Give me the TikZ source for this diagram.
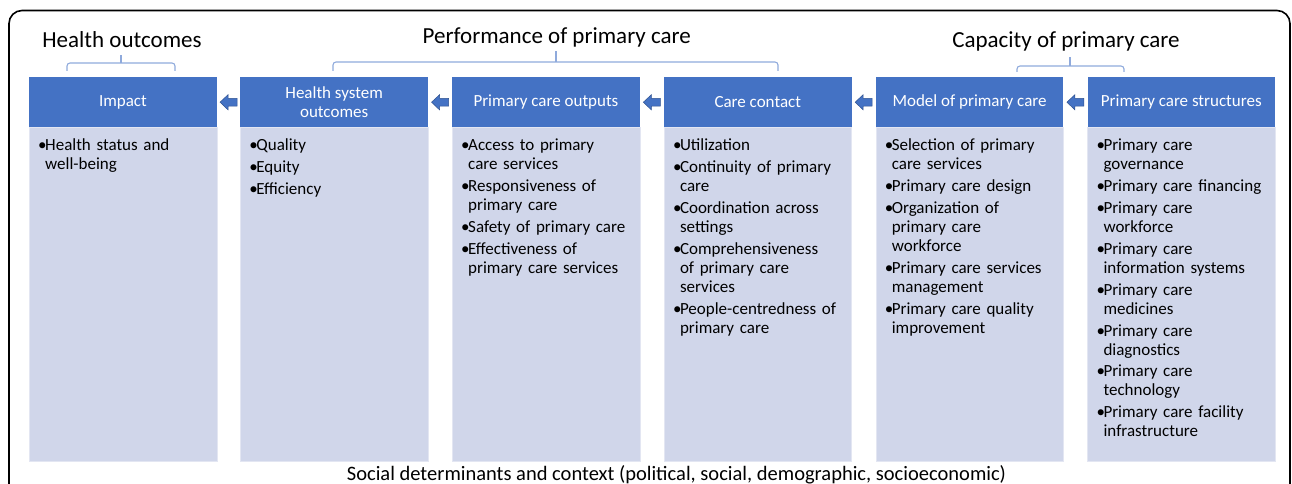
\documentclass[tikz,border=0pt]{standalone}
\usepackage{fontspec}
\setmainfont{Carlito}
\usetikzlibrary{calc}
\definecolor{hdr}{HTML}{4472C4}
\definecolor{bdy}{HTML}{D0D6EA}
\definecolor{arrb}{HTML}{2F528F}
\definecolor{brc}{HTML}{8FAADC}
\newcommand{\itm}[1]{\par\hangindent=7pt\hangafter=1\noindent\rule{0pt}{14pt}\makebox[7pt][l]{\textbullet}#1}
\newcommand{\blockarrow}[1]{\draw[blk] ($(#1)+(-8.5,0)$) -- ++(8,-7.5) -- ++(0,3.8) -- ++(9,0) -- ++(0,7.6) -- ++(-9,0) -- ++(0,3.8) -- cycle;}
\begin{document}
\begin{tikzpicture}[x=1pt,y=-1pt,
 hdrbox/.style={draw=none,fill=hdr,minimum width=187.5pt,minimum height=50pt,inner sep=0pt,text=white,font=\fontsize{17}{19}\selectfont,align=center,anchor=north west},
 bdybox/.style={fill=bdy,draw=bdy!60!white,line width=0.6pt,minimum width=187.5pt,minimum height=333.5pt,inner sep=0pt,anchor=north west},
 bodytext/.style={anchor=north west,inner sep=0pt,text width=178pt,font=\fontsize{17}{19}\selectfont},
 title/.style={anchor=base,inner sep=0pt,font=\fontsize{23}{27}\selectfont},
 blk/.style={fill=hdr,draw=arrb,line width=0.5pt},
 bracestyle/.style={draw=brc,line width=1.1pt,rounded corners=3pt}]
\clip (0,0) rectangle (1292,484);
\draw[line width=1.6pt,rounded corners=13pt] (9,530) -- (9,10.5) -- (1290,10.5) -- (1290,530);

% headers
\node[hdrbox] (h1) at (29,77) {Impact};
\node[hdrbox] (h2) at (240.2,77) {Health system\\outcomes};
\node[hdrbox] (h3) at (452,77) {Primary care outputs};
\node[hdrbox] (h4) at (663.8,77) {Care contact};
\node[hdrbox] (h5) at (875.6,77) {Model of primary care};
\node[hdrbox] (h6) at (1087.3,77) {Primary care structures};

% bodies
\foreach \i in {1,...,6}{\node[bdybox] (b\i) at (h\i.south west) {};}

\node[bodytext] (t1) at ($(b1.north west)+(9,1)$) {\raggedright\parskip=2.9pt
\itm{Health status and\newline well-being}\par};
\node[bodytext] (t2) at ($(b2.north west)+(9,1)$) {\raggedright\parskip=2.9pt
\itm{Quality}\itm{Equity}\itm{Efficiency}\par};
\node[bodytext] (t3) at ($(b3.north west)+(9,1)$) {\raggedright\parskip=2.9pt
\itm{Access to primary\newline care services}\itm{Responsiveness of\newline primary care}\itm{Safety of primary care}\itm{Effectiveness of\newline primary care services}\par};
\node[bodytext] (t4) at ($(b4.north west)+(9,1)$) {\raggedright\parskip=2.9pt
\itm{Utilization}\itm{Continuity of primary\newline care}\itm{Coordination across\newline settings}\itm{Comprehensiveness\newline of primary care\newline services}\itm{People-centredness of\newline primary care}\par};
\node[bodytext] (t5) at ($(b5.north west)+(9,1)$) {\raggedright\parskip=2.9pt
\itm{Selection of primary\newline care services}\itm{Primary care design}\itm{Organization of\newline primary care\newline workforce}\itm{Primary care services\newline management}\itm{Primary care quality\newline improvement}\par};
\node[bodytext] (t6) at ($(b6.north west)+(9,1)$) {\raggedright\parskip=2.9pt
\itm{Primary care\newline governance}\itm{Primary care financing}\itm{Primary care\newline workforce}\itm{Primary care\newline information systems}\itm{Primary care\newline medicines}\itm{Primary care\newline diagnostics}\itm{Primary care\newline technology}\itm{Primary care facility\newline infrastructure}\par};

% arrows
\coordinate (a1) at ($(h1.east)!0.5!(h2.west)$);
\coordinate (a2) at ($(h2.east)!0.5!(h3.west)$);
\coordinate (a3) at ($(h3.east)!0.5!(h4.west)$);
\coordinate (a4) at ($(h4.east)!0.5!(h5.west)$);
\coordinate (a5) at ($(h5.east)!0.5!(h6.west)$);
\blockarrow{a1}\blockarrow{a2}\blockarrow{a3}\blockarrow{a4}\blockarrow{a5}

% titles and braces
\node[title] (ho) at (122,48) {Health outcomes};
\node[title] (pp) at (556.7,44) {Performance of primary care};
\node[title] (cp) at (1066,48) {Capacity of primary care};
\draw[bracestyle] (67,71) -- (67,63) -- (175,63) -- (175,71);
\draw[bracestyle] (121,63) -- (121,55.5);
\draw[bracestyle] (333,71) -- (333,62) -- (778,62) -- (778,71);
\draw[bracestyle] (556,62) -- (556,51);
\draw[bracestyle] (1017,72) -- (1017,66) -- (1124,66) -- (1124,72);
\draw[bracestyle] (1070,66) -- (1070,57);

\node[anchor=base,inner sep=0pt,font=\fontsize{20.5}{24}\selectfont] (sd) at (676.5,480.5) {Social determinants and context (political, social, demographic, socioeconomic)};
\end{tikzpicture}
\end{document}
